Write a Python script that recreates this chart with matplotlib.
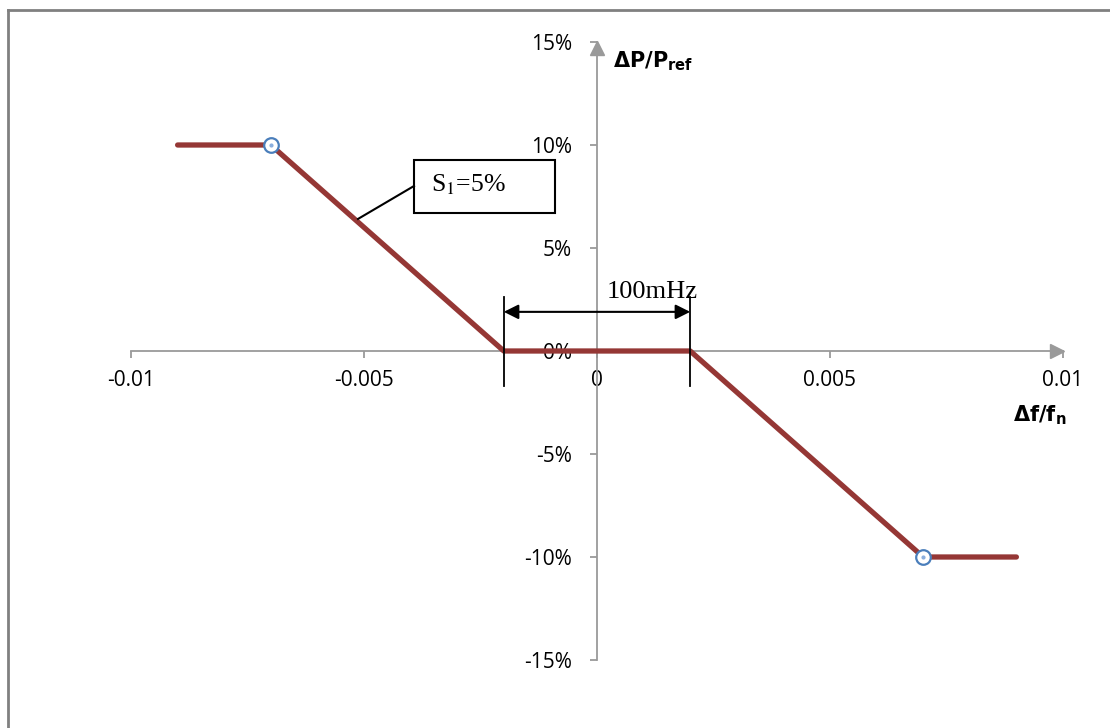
import matplotlib
matplotlib.use("Agg")
import matplotlib.pyplot as plt
from matplotlib.lines import Line2D
from matplotlib.patches import Rectangle
from matplotlib.ticker import FuncFormatter

# droop curve: df/fn vs dP/Pref
freq_dev = [-0.009, -0.007, -0.002, 0.002, 0.007, 0.009]
power_dev = [0.10, 0.10, 0.0, 0.0, -0.10, -0.10]
marker_f = [-0.007, 0.007]
marker_p = [0.10, -0.10]
x_ticks = [-0.01, -0.005, 0, 0.005, 0.01]
x_tick_labels = ["-0.01", "-0.005", "0", "0.005", "0.01"]
y_ticks = [-0.15, -0.10, -0.05, 0.0, 0.05, 0.10, 0.15]
deadband = [-0.002, 0.002]

W, H = 1110, 728
fig = plt.figure(figsize=(W / 100, H / 100), dpi=100)
fig.patch.set_facecolor("white")

# outer frame (only top and left visible in the crop)
fig.add_artist(Line2D([8 / W, 8 / W], [0, 1 - 9.5 / H], color="#808080", lw=2.0))
fig.add_artist(Line2D([8 / W, 1], [1 - 9.5 / H, 1 - 9.5 / H], color="#808080", lw=2.0))

ax = fig.add_axes([131 / W, 68 / H, 932 / W, 618 / H])
ax.set_xlim(-0.01, 0.01)
ax.set_ylim(-0.15, 0.15)

axis_col = "#9a9a9a"
for s in ["top", "right"]:
    ax.spines[s].set_visible(False)
ax.spines["left"].set_position(("data", 0))
ax.spines["bottom"].set_position(("data", 0))
for s in ["left", "bottom"]:
    ax.spines[s].set_color(axis_col)
    ax.spines[s].set_linewidth(1.3)

ax.set_xticks(x_ticks)
ax.set_xticklabels(x_tick_labels)
ax.set_yticks(y_ticks)
ax.yaxis.set_major_formatter(FuncFormatter(lambda v, p: f"{round(v * 100):d}%"))
ax.tick_params(axis="x", direction="out", length=5, width=1.3, color=axis_col,
               labelsize=15, pad=9)
ax.tick_params(axis="y", direction="out", length=5, width=1.3, color=axis_col,
               labelsize=15, pad=13)
for lbl in ax.get_xticklabels() + ax.get_yticklabels():
    lbl.set_family(["Open Sans", "DejaVu Sans"])

# arrow heads at ends of axes
ax.plot(0.9935, 0, ">", transform=ax.get_yaxis_transform(), color=axis_col,
        markersize=10, clip_on=False)
ax.plot(0, 0.99, "^", transform=ax.get_xaxis_transform(), color=axis_col,
        markersize=10, clip_on=False)

# main curve
ax.plot(freq_dev, power_dev, color="#953735", lw=3.8, solid_capstyle="round",
        solid_joinstyle="round", zorder=3)
ax.plot(marker_f, marker_p, "o", ms=10.5, mfc="white", mec="#4a7ebb", mew=1.6, zorder=4)
ax.plot(marker_f, marker_p, "o", ms=2, color="#8aaede", zorder=5)

# axis labels
ax.text(0.00035, 0.1405, r"$\mathbf{\Delta P/P_{ref}}$", fontsize=15, ha="left", va="center")
ax.text(0.0095, -0.031, r"$\mathbf{\Delta f/f_{n}}$", fontsize=15, ha="center", va="center")

# deadband dimension
for f in deadband:
    ax.plot([f, f], [0.026, -0.017], color="black", lw=1.3, zorder=6)
ax.annotate("", xy=(deadband[0], 0.019), xytext=(deadband[1], 0.019),
            arrowprops=dict(arrowstyle="<|-|>", color="black", lw=1.5,
                            mutation_scale=22, shrinkA=0, shrinkB=0))
ax.text(0.00118, 0.0285, "100mHz", fontsize=19, family="Liberation Serif",
        ha="center", va="center")

# slope label box with leader line
ax.add_patch(Rectangle((-0.003927, 0.0670), 0.003026, 0.0257, fc="white",
                       ec="black", lw=1.5, zorder=6))
ax.plot([-0.005129, -0.003927], [0.0641, 0.0801], color="black", lw=1.5, zorder=6)
ax.text(-0.00275, 0.0805, r"S$_1$=5%", fontsize=18.5, family="Liberation Serif",
        math_fontfamily="stix", ha="center", va="center", zorder=7)

fig.savefig("out.png", dpi=100)
